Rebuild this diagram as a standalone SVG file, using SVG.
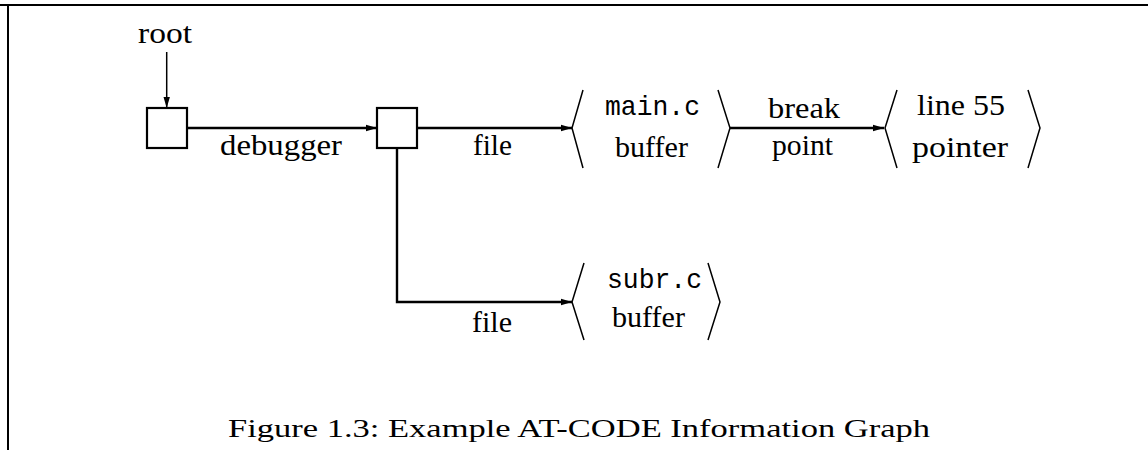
<svg xmlns="http://www.w3.org/2000/svg" width="1148" height="450" viewBox="0 0 1148 450">
<style>
.t{font-family:"Liberation Serif","DejaVu Serif",serif;font-size:30px;fill:#000}
.m{font-family:"Liberation Mono","DejaVu Sans Mono",monospace;font-size:28px;fill:#000}
.box{fill:#fff;stroke:#000;stroke-width:2.2}
.br{fill:none;stroke:#000;stroke-width:1.5}
.c{fill:none;stroke:#000;stroke-width:2.4}
.c1{fill:none;stroke:#000;stroke-width:1.5}
</style>
<defs>
<marker id="ah" markerUnits="userSpaceOnUse" markerWidth="12" markerHeight="8" refX="11" refY="4" orient="auto">
<path d="M0,0.8 L11,4 L0,7.2 z" fill="#000"/>
</marker>
</defs>
<rect width="1148" height="450" fill="#fff"/>
<g id="frame">
<line x1="0" y1="5" x2="1148" y2="5" stroke="#000" stroke-width="2"/>
<line x1="8" y1="5" x2="8" y2="450" stroke="#000" stroke-width="2"/>
</g>
<g id="connectors">
<path class="c1" d="M166.7 52 V108" marker-end="url(#ah)"/>
<path class="c" d="M187 128 H377" marker-end="url(#ah)"/>
<path class="c" d="M417 128 H572" marker-end="url(#ah)"/>
<path class="c" d="M730 128 H884" marker-end="url(#ah)"/>
<path class="c" d="M397 148 V302 H572" marker-end="url(#ah)"/>
<text class="t" x="281" y="155" text-anchor="middle" textLength="122" lengthAdjust="spacingAndGlyphs">debugger</text>
<text class="t" x="492.5" y="155" text-anchor="middle" textLength="39" lengthAdjust="spacingAndGlyphs">file</text>
<text class="t" x="804" y="118" text-anchor="middle" textLength="72" lengthAdjust="spacingAndGlyphs">break</text>
<text class="t" x="802.5" y="155" text-anchor="middle" textLength="61" lengthAdjust="spacingAndGlyphs">point</text>
<text class="t" x="492" y="332" text-anchor="middle" textLength="40" lengthAdjust="spacingAndGlyphs">file</text>
</g>
<g id="root">
<text class="t" x="165" y="43" text-anchor="middle" textLength="54" lengthAdjust="spacingAndGlyphs">root</text>
</g>
<g id="node1">
<rect class="box" x="147" y="108" width="40" height="40"/>
</g>
<g id="node2">
<rect class="box" x="377" y="108" width="40" height="40"/>
</g>
<g id="mainbuf">
<path class="br" d="M583 90 L572 128 L583 168"/>
<path class="br" d="M718 90 L730 128 L718 168"/>
<text class="m" x="652.5" y="115" text-anchor="middle" textLength="95" lengthAdjust="spacingAndGlyphs">main.c</text>
<text class="t" x="651.5" y="157" text-anchor="middle" textLength="73" lengthAdjust="spacingAndGlyphs">buffer</text>
</g>
<g id="line55">
<path class="br" d="M897 90 L885 128 L897 168"/>
<path class="br" d="M1028 90 L1040 128 L1028 168"/>
<text class="t" x="961" y="115" text-anchor="middle" textLength="88" lengthAdjust="spacingAndGlyphs">line 55</text>
<text class="t" x="960" y="157" text-anchor="middle" textLength="96" lengthAdjust="spacingAndGlyphs">pointer</text>
</g>
<g id="subrbuf">
<path class="br" d="M584 263 L572 302 L584 340"/>
<path class="br" d="M708 263 L720 302 L708 340"/>
<text class="m" x="654.5" y="288" text-anchor="middle" textLength="95" lengthAdjust="spacingAndGlyphs">subr.c</text>
<text class="t" x="648.5" y="327" text-anchor="middle" textLength="73" lengthAdjust="spacingAndGlyphs">buffer</text>
</g>
<g id="caption">
<text class="t" x="228" y="437" style="font-size:26px" textLength="702" lengthAdjust="spacingAndGlyphs">Figure 1.3: Example AT-CODE Information Graph</text>
</g>
</svg>
